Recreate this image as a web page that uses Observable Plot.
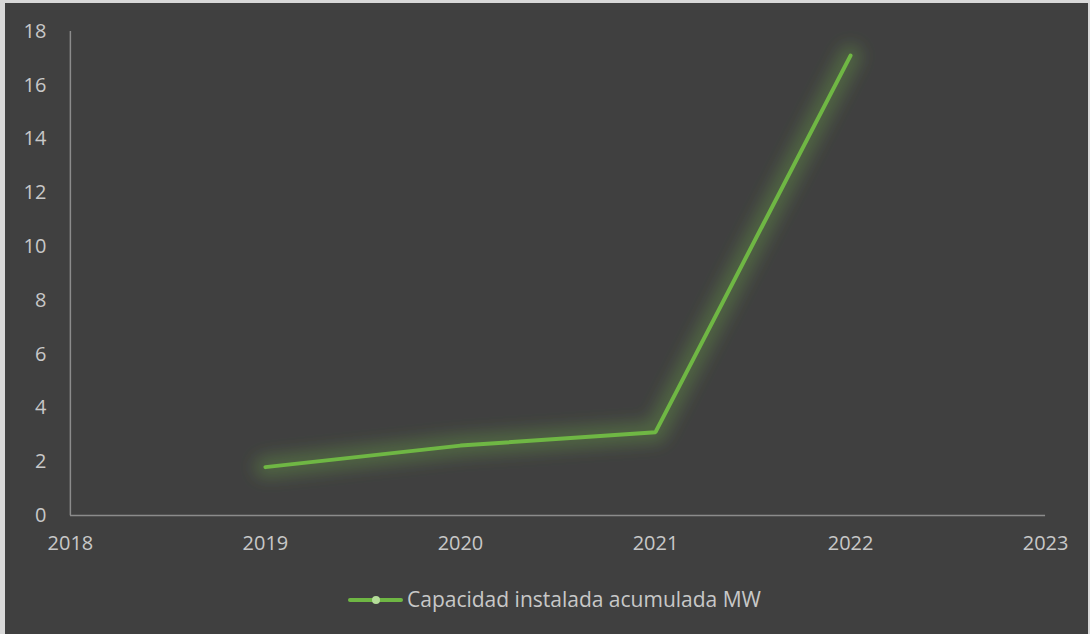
<!DOCTYPE html>
<html>
<head>
<meta charset="utf-8">
<script src="https://cdn.jsdelivr.net/npm/d3@7"></script>
<script src="https://cdn.jsdelivr.net/npm/@observablehq/plot@0.6"></script>
<style>
  html, body { margin: 0; padding: 0; background: #d9d9d9; }
  #frame { position: absolute; left: 5px; top: 3px; width: 1083px; height: 631px; background: #404040; overflow: hidden; font-family: "Open Sans", "Noto Sans", sans-serif; }
  #chart { position: absolute; left: -5px; top: -3px; }
  #legend { position: absolute; left: 8px; width: 1083px; top: 582px; text-align: center; color: #c8c8c8; font-size: 21px; white-space: nowrap; }
  #legend .sw { display: inline-block; position: relative; width: 55px; height: 4px; background: #6fb744; border-radius: 2px; vertical-align: middle; margin-right: 4px; top: -1px; }
  #legend .sw::after { content: ""; position: absolute; left: 24px; top: -2px; width: 8px; height: 8px; border-radius: 4px; background: #b5dd9a; }
</style>
</head>
<body>
<div id="frame">
  <div id="chart"></div>
  <div id="legend"><span class="sw"></span><span id="legtext"></span></div>
</div>
<script>
const years = [2019, 2020, 2021, 2022];
const capacity = [1.8, 2.6, 3.1, 17.1];
const xTicks = [2018, 2019, 2020, 2021, 2022, 2023];
const yTicks = [0, 2, 4, 6, 8, 10, 12, 14, 16, 18];
const seriesName = "Capacidad instalada acumulada MW";

const data = years.map((y, i) => ({year: y, value: capacity[i]}));
const green = "#6fb744";
const axisColor = "#8c8c8c";
const textColor = "#c8c8c8";

const plot = Plot.plot({
  width: 1090,
  height: 580,
  marginLeft: 70,
  marginRight: 43,
  marginTop: 31,
  marginBottom: 64,
  style: { background: "transparent", color: textColor, fontFamily: "'Open Sans', 'Noto Sans', sans-serif", fontSize: "20px" },
  x: { domain: [2018, 2023], ticks: xTicks, tickFormat: d => String(d), tickSize: 0, tickPadding: 20, label: null },
  y: { domain: [0, 18], ticks: yTicks, tickSize: 0, tickPadding: 24, label: null },
  marks: [
    Plot.ruleX([2018], { stroke: axisColor, strokeWidth: 1.5 }),
    Plot.ruleY([0], { stroke: axisColor, strokeWidth: 1.5 }),
    Plot.line(data, { x: "year", y: "value", stroke: green, strokeWidth: 22, strokeOpacity: 0.3, strokeLinejoin: "round", strokeLinecap: "round", className: "glow" }),
    Plot.line(data, { x: "year", y: "value", stroke: green, strokeWidth: 4, strokeLinejoin: "miter", strokeLinecap: "round" })
  ]
});

// glow filter
const svg = d3.select(plot);
const defs = svg.insert("defs", ":first-child");
defs.append("filter").attr("id", "glowblur").attr("x", "-20%").attr("y", "-20%").attr("width", "140%").attr("height", "140%")
  .append("feGaussianBlur").attr("stdDeviation", 8);
svg.selectAll(".glow").attr("filter", "url(#glowblur)");
svg.selectAll("[aria-label='y-axis tick label'] text, [aria-label='x-axis tick label'] text")
  .attr("fill", textColor).attr("font-size", 20);

document.getElementById("chart").appendChild(plot);
document.getElementById("legtext").textContent = seriesName;
</script>
</body>
</html>
